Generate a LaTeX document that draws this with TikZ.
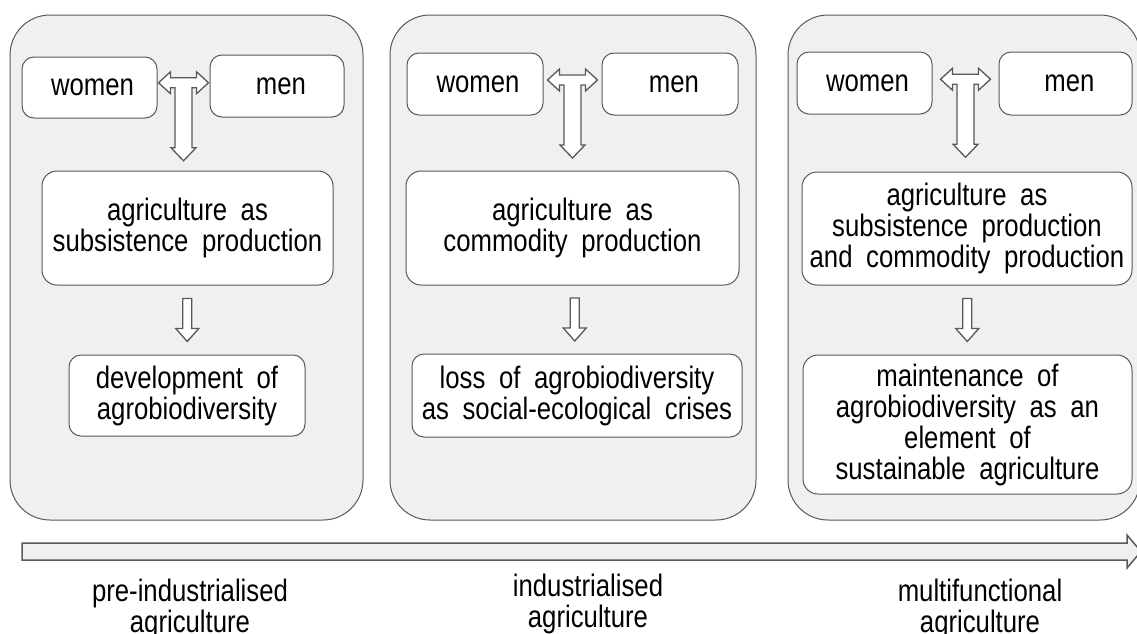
\documentclass[tikz,border=0pt]{standalone}
\usepackage{fontspec}
\setmainfont{Liberation Sans}[FakeStretch=0.83,WordSpace=1.9]
\usepackage{xcolor}
\usetikzlibrary{calc}

\definecolor{linegray}{HTML}{595959}
\definecolor{panelgray}{HTML}{F0F0F0}

\tikzset{
  era/.style={draw=linegray, fill=panelgray, rounded corners=40pt, line width=1pt, inner sep=0pt},
  box/.style={draw=linegray, fill=white, rounded corners=12pt, line width=1pt, align=center, inner sep=0pt},
  blk/.style={draw=linegray, fill=white, line width=1.3pt, line join=miter},
  % women <-> men, and down to the production box
  tarrow/.pic={
    \draw[blk] (-25,0) -- (-13,-11) -- (-13,-5) -- (13,-5) -- (13,-11) -- (25,0) -- (13,11) -- (13,5)
      -- (8.5,5) -- (8.5,65) -- (12.5,65) -- (0,78) -- (-12.5,65) -- (-8.5,65) -- (-8.5,5)
      -- (-13,5) -- (-13,11) -- cycle;
  },
  dnarrow/.pic={
    \draw[blk] (-4.5,-21.5) -- (4.5,-21.5) -- (4.5,8.5) -- (11.5,8.5) -- (0,21.5) -- (-11.5,8.5) -- (-4.5,8.5) -- cycle;
  }
}

\begin{document}
\begin{tikzpicture}[x=1pt, y=-1pt, font=\fontsize{31pt}{31pt}\selectfont]
\useasboundingbox (0,0) rectangle (1137,633);
\clip (0,0) rectangle (1137,633);

% pre-industrialised
\node[era, minimum width=353pt, minimum height=505pt] (era1) at (186.5,267.5) {};
\node[box, minimum width=135pt, minimum height=61pt] (women1) at (89.5,87.5) {\hspace{6pt}women};
\node[box, minimum width=134pt, minimum height=62pt] (men1) at (277,86) {\hspace{8pt}men};
\node[box, minimum width=291pt, minimum height=114pt, rounded corners=15pt] (prod1) at (187.5,228) {agriculture as\\subsistence production};
\node[box, minimum width=236pt, minimum height=81pt] (div1) at (187,395.5) {development of\\agrobiodiversity};
\pic at ($(women1.east)!0.5!(men1.west)+(0,-4)$) {tarrow};
\pic at ($(prod1.south)!0.5!(div1.north)$) {dnarrow};

% industrialised
\node[era, minimum width=366pt, minimum height=505pt] (era2) at (573,267.5) {};
\node[box, minimum width=136pt, minimum height=62pt] (women2) at (475,84) {\hspace{6pt}women};
\node[box, minimum width=136pt, minimum height=62pt] (men2) at (670,84) {\hspace{8pt}men};
\node[box, minimum width=333pt, minimum height=114pt, rounded corners=15pt] (prod2) at (572.5,228) {agriculture as\\commodity production};
\node[box, minimum width=330pt, minimum height=83pt] (div2) at (577,395.5) {loss of agrobiodiversity\\as social-ecological crises};
\pic at ($(women2.east)!0.5!(men2.west)+(0,-4)$) {tarrow};
\pic at ($(prod2.south)!0.5!(div2.north)$) {dnarrow};

% multifunctional
\node[era, minimum width=352pt, minimum height=505pt] (era3) at (964,267.5) {};
\node[box, minimum width=135pt, minimum height=62pt] (women3) at (864.5,83) {\hspace{6pt}women};
\node[box, minimum width=133pt, minimum height=63pt] (men3) at (1065.5,83.5) {\hspace{8pt}men};
\node[box, minimum width=330pt, minimum height=113pt, rounded corners=15pt] (prod3) at (967,228.5) {agriculture as\\subsistence production\\and commodity production};
\node[box, minimum width=329pt, minimum height=139pt, rounded corners=15pt] (div3) at (967.5,424.5) {maintenance of\\agrobiodiversity as an\\element of\\sustainable agriculture};
\pic at ($(women3.east)!0.5!(men3.west)+(0,-4)$) {tarrow};
\pic at ($(prod3.south)!0.5!(div3.north)$) {dnarrow};

% time axis
\coordinate (tl) at (22,551.5);
\coordinate (tr) at (1141,551.5);
\draw[blk, fill=panelgray, line width=1.5pt] ($(tl)+(0,-8.5)$) -- ($(tr)+(-14,-8.5)$) -- ($(tr)+(-14,-16.5)$) -- (tr)
  -- ($(tr)+(-14,16.5)$) -- ($(tr)+(-14,8.5)$) -- ($(tl)+(0,8.5)$) -- cycle;

\node[align=center, anchor=base] (lab1) at (190,632) {pre-industrialised\\agriculture};
\node[align=center, anchor=base] (lab2) at (588,627) {industrialised\\agriculture};
\node[align=center, anchor=base] (lab3) at (980,632) {multifunctional\\agriculture};
\end{tikzpicture}
\end{document}
